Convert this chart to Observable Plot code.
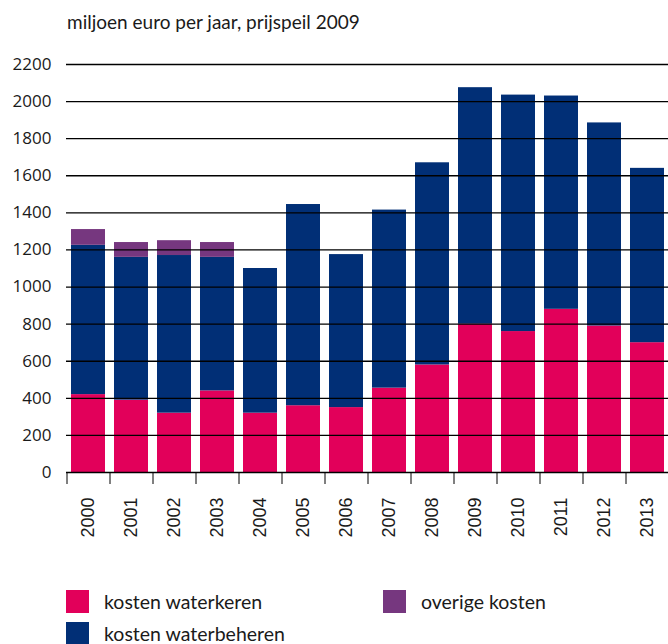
<!DOCTYPE html>
<html><head><meta charset="utf-8">
<script src="https://cdn.jsdelivr.net/npm/d3@7"></script>
<script src="https://cdn.jsdelivr.net/npm/@observablehq/plot@0.6"></script>
<style>
body{margin:0;background:#fff;width:668px;height:644px;overflow:hidden;position:relative;font-family:Lato,sans-serif}
#title{position:absolute;left:67px;top:10px;font-size:19px;color:#1a1a1a;white-space:nowrap}
#chart{position:absolute;left:0;top:40px}
.leg{position:absolute;font-size:19.5px;color:#1a1a1a;display:flex;align-items:center;white-space:nowrap;height:23px}
.sw{width:23px;height:23px;margin-right:15px;flex:none}
</style></head><body>
<div id="title">miljoen euro per jaar, prijspeil 2009</div>
<div id="chart"></div>
<div id="legend"></div>
<script>
const years = ["2000","2001","2002","2003","2004","2005","2006","2007","2008","2009","2010","2011","2012","2013"];
const seriesNames = ["kosten waterkeren","kosten waterbeheren","overige kosten"];
const seriesColors = ["#e2005a","#012f76","#76377f"];
const waterkeren   = [420,390,320,440,320,360,350,455,580,800,760,880,790,700];
const waterbeheren = [805,770,850,720,780,1085,825,960,1090,1275,1275,1150,1095,940];
const overige      = [85,80,80,80,0,0,0,0,0,0,0,0,0,0];
const yTicks = [0,200,400,600,800,1000,1200,1400,1600,1800,2000,2200];

const seriesValues = [waterkeren, waterbeheren, overige];
const rows = [];
seriesNames.forEach((s, i) => years.forEach((y, j) => rows.push({year: y, series: s, value: seriesValues[i][j]})));

const chart = Plot.plot({
  width: 668, height: 532,
  marginLeft: 66, marginRight: 0, marginTop: 24, marginBottom: 100,
  x: {type: "band", domain: years, paddingInner: 0.21, paddingOuter: 0.105, label: null},
  y: {domain: [0, 2200], label: null},
  color: {domain: seriesNames, range: seriesColors},
  marks: [
    Plot.barY(rows, {x: "year", y: "value", fill: "series", order: seriesNames}),
    Plot.ruleY(yTicks.filter(d => d > 0), {stroke: "#000", strokeWidth: 1.3}),
    Plot.ruleY([0], {stroke: "#000", strokeWidth: 1.3}),
    Plot.axisY({ticks: yTicks, tickFormat: d => String(d), tickSize: 0, tickPadding: 15, fontSize: 17, fontFamily: "Open Sans", fill: "#1a1a1a", label: null}),
    Plot.axisX({tickSize: 12, tickFormat: () => "", dx: -21.5, stroke: "#000", label: null}),
    Plot.axisX({tickSize: 0, tickPadding: 25, tickRotate: -90, fontSize: 18, fontFamily: "Liberation Sans", fill: "#1a1a1a", label: null})
  ]
});
document.getElementById("chart").appendChild(chart);

const legendPos = [[66, 590], [66, 622], [383, 590]];
const leg = document.getElementById("legend");
seriesNames.forEach((s, i) => {
  const d = document.createElement("div");
  d.className = "leg";
  d.style.left = legendPos[i][0] + "px";
  d.style.top = legendPos[i][1] + "px";
  d.innerHTML = `<div class="sw" style="background:${seriesColors[i]}"></div><span>${s}</span>`;
  leg.appendChild(d);
});
</script>
</body></html>
